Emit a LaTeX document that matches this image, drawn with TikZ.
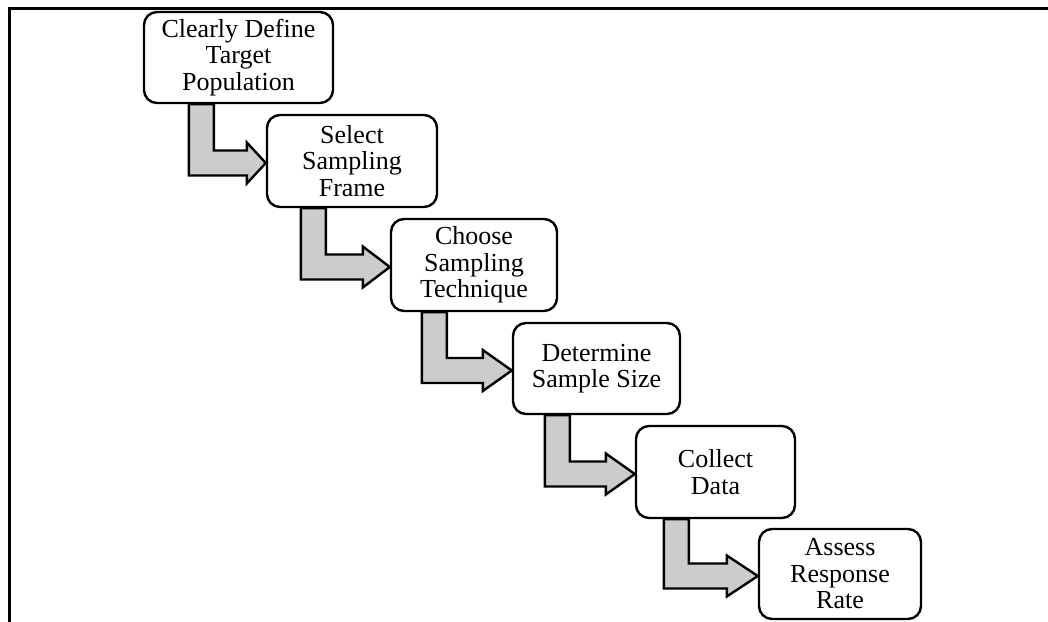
\documentclass[tikz,border=0pt]{standalone}
\usepackage{fontspec}
\setmainfont{Liberation Serif}
\usetikzlibrary{calc,backgrounds}
\definecolor{shaftgray}{HTML}{CCCCCC}
\tikzset{
  stepbox/.style={draw, line width=2.4pt, rounded corners=13pt, fill=white,
    align=center, inner sep=0pt, font=\fontsize{26}{26.5}\selectfont},
  bentarrow/.style={draw, line width=2.4pt, fill=shaftgray, line join=miter},
  framerule/.style={line width=3pt}
}
% bent block arrow: from box #1 (down) to box #2 (right);
% #3 = shaft offset from the left edge of #1, #4 = head length
\newcommand\flowstep[4]{%
  \path[bentarrow] let \p1=(#1.south west), \p2=($(#2.west)+(0,2)$) in
    (\x1+#3pt,\y1) -- (\x1+#3pt+25pt,\y1) -- (\x1+#3pt+25pt,\y2+12.5pt)
    -- (\x2-#4pt,\y2+12.5pt) -- (\x2-#4pt,\y2+20.5pt) -- (\x2,\y2)
    -- (\x2-#4pt,\y2-20.5pt) -- (\x2-#4pt,\y2-12.5pt)
    -- (\x1+#3pt,\y2-12.5pt) -- cycle;}
\begin{document}
\begin{tikzpicture}[x=1pt,y=-1pt]
  \useasboundingbox (0,0) rectangle (1048,621);

  % outer frame (left and top rules)
  \coordinate (fbl) at (9,622);
  \coordinate (ftl) at (9,8);
  \coordinate (ftr) at (1049,8);
  \draw[framerule] (fbl) -- (ftl) -- (ftr);

  % process steps
  \node[stepbox, minimum width=189pt, minimum height=91pt] (b1) at (238.5,57.5)
    {Clearly Define\\Target\\Population};
  \node[stepbox, minimum width=170pt, minimum height=92pt] (b2) at (352,161)
    {Select\\Sampling\\Frame};
  \node[stepbox, minimum width=166pt, minimum height=92pt] (b3) at (474,265)
    {Choose\\Sampling\\Technique};
  \node[stepbox, minimum width=167pt, minimum height=91pt] (b4) at (596.5,368.5)
    {Determine\\Sample Size};
  \node[stepbox, minimum width=159pt, minimum height=92pt] (b5) at (715.5,472)
    {Collect\\Data};
  \node[stepbox, minimum width=162pt, minimum height=90pt] (b6) at (840,574)
    {Assess\\Response\\Rate};

  % connecting arrows, under the boxes
  \begin{pgfonlayer}{background}
    \flowstep{b1}{b2}{46}{19}
    \flowstep{b2}{b3}{35}{27}
    \flowstep{b3}{b4}{32}{29}
    \flowstep{b4}{b5}{33}{29}
    \flowstep{b5}{b6}{29}{31}
  \end{pgfonlayer}
\end{tikzpicture}
\end{document}
